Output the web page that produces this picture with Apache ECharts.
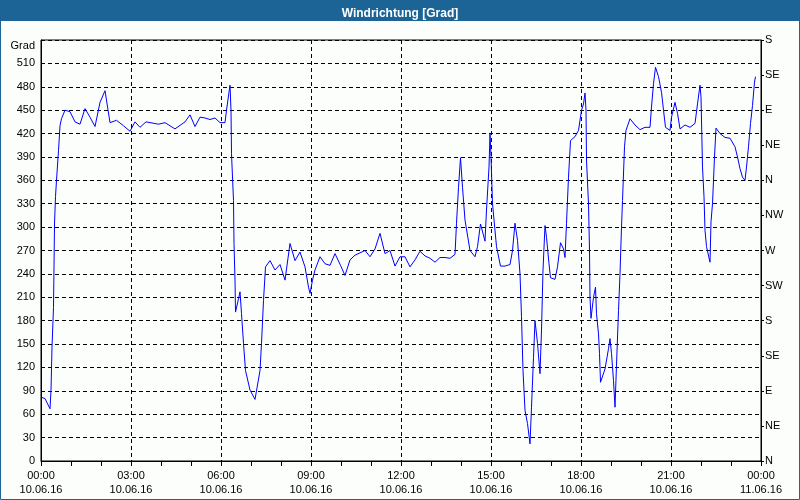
<!DOCTYPE html>
<html>
<head>
<meta charset="utf-8">
<script src="https://cdn.jsdelivr.net/npm/echarts@6/dist/echarts.min.js"></script>
<style>
  html, body { margin: 0; padding: 0; }
  #main { width: 800px; height: 500px; }
</style>
</head>
<body>
<div id="main"></div>
<script>
// minutes since 00:00 on 10.06.16
const minutes = [
  0, 8, 18, 20, 22, 25, 26, 27, 29, 31, 35, 38, 41, 48, 58, 68, 78, 88, 98, 108,
  118, 128, 138, 151, 165, 178, 188, 198, 210, 235, 248, 268, 288, 298, 308, 318, 328, 338, 348, 358,
  368, 371, 376, 378, 380, 381, 385, 386, 388, 389, 395, 398, 401, 405, 409, 418, 428, 438, 441, 445,
  449, 458, 468, 478, 488, 498, 508, 518, 528, 535, 538, 543, 548, 558, 568, 578, 588, 599, 608, 618,
  628, 638, 648, 658, 668, 678, 688, 698, 708, 718, 728, 738, 748, 758, 768, 778, 788, 798, 808, 818,
  828, 831, 835, 839, 843, 848, 858, 868, 873, 879, 888, 891, 896, 898, 900, 903, 911, 919, 928, 938,
  943, 948, 953, 958, 961, 964, 968, 973, 978, 981, 985, 988, 993, 998, 1001, 1004, 1008, 1011, 1016, 1019,
  1028, 1033, 1039, 1045, 1048, 1051, 1055, 1059, 1068, 1075, 1081, 1085, 1088, 1090, 1091, 1095, 1097, 1098, 1100, 1105,
  1109, 1111, 1115, 1117, 1119, 1128, 1135, 1138, 1141, 1145, 1148, 1151, 1155, 1158, 1161, 1163, 1167, 1170, 1178, 1188,
  1198, 1208, 1218, 1221, 1225, 1229, 1235, 1241, 1245, 1249, 1258, 1261, 1268, 1273, 1278, 1288, 1298, 1308, 1313, 1318,
  1320, 1323, 1326, 1328, 1331, 1338, 1340, 1343, 1347, 1350, 1358, 1368, 1378, 1388, 1393, 1398, 1403, 1408, 1411, 1415,
  1419, 1423, 1427, 1429
]
const grad = [
  82, 80, 67, 91, 146, 197, 249, 304, 339, 360, 398, 430, 439, 450, 448, 435, 432, 452, 441, 429,
  460, 475, 434, 437, 430, 423, 435, 428, 435, 432, 434, 426, 435, 444, 429, 441, 440, 438, 440, 434,
  434, 450, 473, 482, 450, 394, 334, 279, 232, 191, 208, 217, 189, 151, 116, 91, 79, 116, 151, 206,
  249, 257, 245, 252, 232, 279, 257, 268, 249, 223, 215, 232, 245, 262, 253, 251, 266, 251, 238, 258,
  264, 267, 270, 262, 272, 292, 266, 270, 250, 262, 262, 249, 258, 269, 263, 260, 255, 261, 261, 260,
  265, 305, 351, 389, 351, 309, 270, 262, 275, 304, 282, 322, 377, 420, 390, 330, 275, 250, 250, 252,
  270, 305, 283, 240, 185, 116, 65, 48, 22, 69, 133, 180, 151, 112, 168, 245, 302, 287, 253, 235,
  233, 249, 280, 272, 261, 305, 364, 411, 416, 424, 450, 458, 472, 450, 386, 330, 270, 210, 183, 210,
  223, 189, 163, 138, 101, 118, 144, 157, 138, 103, 69, 123, 193, 240, 300, 334, 403, 424, 439, 431,
  425, 428, 428, 454, 484, 505, 493, 473, 450, 428, 424, 441, 460, 446, 426, 431, 428, 433, 458, 482,
  467, 377, 339, 296, 275, 255, 307, 330, 390, 427, 420, 415, 414, 403, 390, 375, 364, 360, 377, 403,
  433, 456, 486, 493
]
const timeLabels = ['00:00', '03:00', '06:00', '09:00', '12:00', '15:00', '18:00', '21:00', '00:00']
const dateLabels = ['10.06.16', '10.06.16', '10.06.16', '10.06.16', '10.06.16', '10.06.16', '10.06.16', '10.06.16', '11.06.16']
const compass = ['N', 'NE', 'E', 'SE', 'S', 'SW', 'W', 'NW', 'N', 'NE', 'E', 'SE', 'S']

const chart = echarts.init(document.getElementById('main'))
const font = 'Liberation Sans'
const dash = { color: '#000', width: 1, type: [4, 3] }

const option = {
  animation: false,
  backgroundColor: '#fcfefc',
  title: {
    text: 'Windrichtung [Grad]',
    left: 'center',
    top: 3,
    textStyle: { color: '#fff', fontFamily: font, fontWeight: 'bold', fontSize: 12 }
  },
  graphic: [
    { type: 'rect', z: -1, shape: { x: 0, y: 0, width: 800, height: 21 }, style: { fill: '#1c6496' } },
    { type: 'rect', z: -1, shape: { x: 0.5, y: 0.5, width: 799, height: 499 }, style: { fill: null, stroke: '#1c6496', lineWidth: 1 } }
  ],
  grid: {
    left: 41, right: 39, top: 40, bottom: 39,
    show: true, borderColor: '#000', borderWidth: 1
  },
  xAxis: {
    type: 'value',
    min: 0, max: 1440, interval: 180,
    axisLine: { lineStyle: { color: '#000' } },
    axisTick: { show: true, length: 5, lineStyle: { color: '#000' } },
    minorTick: { show: true, splitNumber: 3, length: 5, lineStyle: { color: '#000' } },
    splitLine: { show: true, lineStyle: dash },
    axisLabel: {
      margin: 8, color: '#000', fontFamily: font, fontSize: 11, lineHeight: 14,
      formatter: v => timeLabels[v / 180] + '\n' + dateLabels[v / 180]
    }
  },
  yAxis: [
    {
      type: 'value',
      min: 0, max: 540, interval: 30,
      axisLine: { show: true, lineStyle: { color: '#000' } },
      axisTick: { show: false },
      splitLine: { show: true, lineStyle: dash },
      axisLabel: {
        margin: 6, color: '#000', fontFamily: font, fontSize: 11,
        formatter: v => (v === 540 ? '{g|Grad}' : v),
        rich: { g: { fontFamily: font, fontSize: 11, color: '#000', padding: [12, 0, 0, 0] } }
      }
    },
    {
      type: 'value',
      position: 'right',
      min: 0, max: 540, interval: 45,
      axisLine: { show: true, lineStyle: { color: '#000' } },
      axisTick: { show: true, length: 3, lineStyle: { color: '#000' } },
      splitLine: { show: false },
      axisLabel: {
        margin: 4, color: '#000', fontFamily: font, fontSize: 11,
        formatter: v => compass[v / 45]
      }
    }
  ],
  series: [
    {
      type: 'line',
      data: minutes.map((m, i) => [m, grad[i]]),
      showSymbol: false,
      lineStyle: { color: '#0000ff', width: 1 }
    }
  ]
}

option && chart.setOption(option)
</script>
</body>
</html>
